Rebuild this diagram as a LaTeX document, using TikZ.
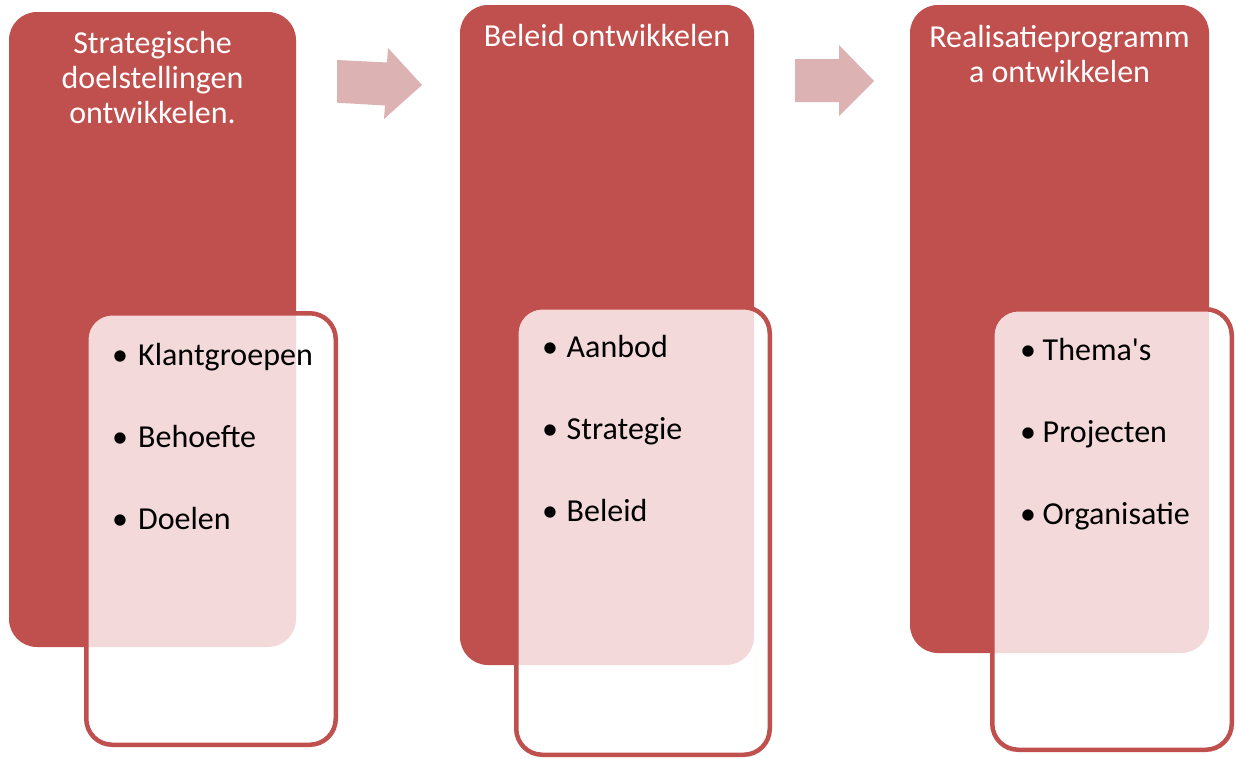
\documentclass[tikz,border=0pt]{standalone}
\usepackage{fontspec}
\setmainfont{Carlito}[Ligatures=TeXOff]
\definecolor{boxred}{HTML}{C0504D}
\definecolor{arrowpink}{HTML}{DDB2B2}
\definecolor{overlapfill}{HTML}{F3D9D9}
\begin{document}
\begin{tikzpicture}[x=1pt,y=-1pt,
  redbox/.style={fill=boxred, rounded corners=28pt, inner sep=0pt, outer sep=0pt, anchor=north west},
  whitebox/.style={fill=white, rounded corners=26pt, inner sep=0pt, outer sep=0pt, anchor=north west},
  border/.style={draw=boxred, line width=4.5pt, rounded corners=26pt},
  head/.style={text=white, font=\fontsize{32}{35}\selectfont, align=center, inner sep=0pt, anchor=north},
  item/.style={text=black, font=\fontsize{32}{36}\selectfont, inner sep=0pt, anchor=base west},
  arrowshape/.style={fill=arrowpink}]
\useasboundingbox[fill=white] (0,0) rectangle (1236,758);

% ---------- column 1 ----------
\node[redbox, minimum width=287pt, minimum height=635pt] (r1) at (9,12) {};
\node[whitebox, minimum width=249.5pt, minimum height=431.5pt] (w1) at (86.25,313.25) {};
\begin{scope}
  \clip[rounded corners=28pt] (r1.north west) rectangle (r1.south east);
  \fill[overlapfill, rounded corners=26pt] (w1.north west) rectangle (w1.south east);
\end{scope}
\draw[border] (w1.north west) rectangle (w1.south east);
\node[head] (h1) at (152.5,31) {Strategische\\doelstellingen\\ontwikkelen.};
\node[item] (a1) at (138,365) {\llap{\makebox[36pt][c]{•}}Klantgroepen};
\node[item] (a2) at (138,447) {\llap{\makebox[36pt][c]{•}}Behoefte};
\node[item] (a3) at (138,529) {\llap{\makebox[36pt][c]{•}}Doelen};

% ---------- column 2 ----------
\node[redbox, minimum width=294pt, minimum height=660pt] (r2) at (460,5) {};
\node[whitebox, minimum width=253.5pt, minimum height=447.5pt] (w2) at (516.25,307.25) {};
\begin{scope}
  \clip[rounded corners=28pt] (r2.north west) rectangle (r2.south east);
  \fill[overlapfill, rounded corners=26pt] (w2.north west) rectangle (w2.south east);
\end{scope}
\draw[border] (w2.north west) rectangle (w2.south east);
\node[head] (h2) at (607,24) {Beleid ontwikkelen};
\node[item] (b1) at (566.5,357) {\llap{\makebox[33pt][c]{•}}Aanbod};
\node[item] (b2) at (566.5,439) {\llap{\makebox[33pt][c]{•}}Strategie};
\node[item] (b3) at (566.5,521) {\llap{\makebox[33pt][c]{•}}Beleid};

% ---------- column 3 ----------
\node[redbox, minimum width=299pt, minimum height=648pt] (r3) at (910,5) {};
\node[whitebox, minimum width=239.5pt, minimum height=440.5pt] (w3) at (992.25,309.25) {};
\begin{scope}
  \clip[rounded corners=28pt] (r3.north west) rectangle (r3.south east);
  \fill[overlapfill, rounded corners=26pt] (w3.north west) rectangle (w3.south east);
\end{scope}
\draw[border] (w3.north west) rectangle (w3.south east);
\node[head] (h3) at (1059.5,25) {Realisatieprogramm\\a ontwikkelen};
\node[item] (c1) at (1042.5,360) {\llap{\makebox[29pt][c]{•}}Thema's};
\node[item] (c2) at (1042.5,442) {\llap{\makebox[29pt][c]{•}}Projecten};
\node[item] (c3) at (1042.5,524) {\llap{\makebox[29pt][c]{•}}Organisatie};

% ---------- arrows ----------
\fill[arrowshape] (337,60) -- (387,62.5) -- (388,48) -- (422,85) -- (384,119) -- (385,105.5) -- (337,102.7) -- cycle;
\fill[arrowshape] (795,59) -- (839,59) -- (839,45) -- (874,81) -- (839,116) -- (839,102) -- (795,102) -- cycle;
\end{tikzpicture}
\end{document}
